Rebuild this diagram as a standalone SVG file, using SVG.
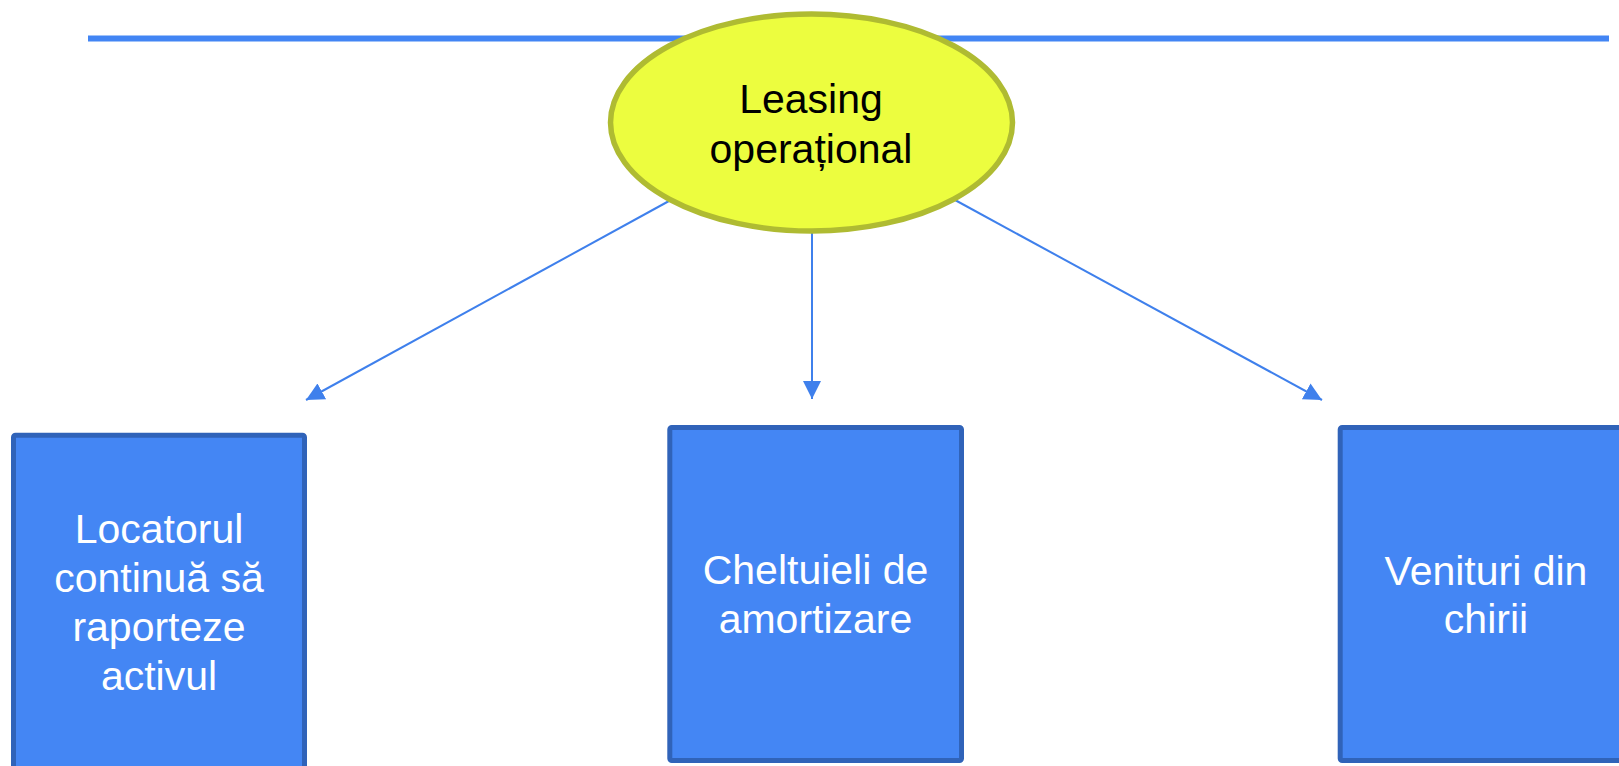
<svg xmlns="http://www.w3.org/2000/svg" width="1619" height="766" viewBox="0 0 1619 766">
<style>
.box{fill:#4486f4;stroke:#3063b9;stroke-width:5}
.lbl{font-family:"Liberation Sans",Arial,sans-serif;font-size:41px;fill:#ffffff;text-anchor:middle}
.conn{stroke:#3f80ec;stroke-width:2;fill:none}
</style>
<defs>
<marker id="ah" markerUnits="userSpaceOnUse" markerWidth="18" markerHeight="18" refX="17" refY="8.5" orient="auto" viewBox="0 0 17 17">
<path d="M0,0 L17,8.5 L0,17 z" fill="#3f80ec"/>
</marker>
</defs>
<rect width="1619" height="766" fill="#ffffff"/>
<line x1="88" y1="38.5" x2="1609" y2="38.5" stroke="#4285f4" stroke-width="6"/>
<g id="connectors">
<line class="conn" x1="669" y1="201" x2="306" y2="400" marker-end="url(#ah)"/>
<line class="conn" x1="812" y1="233" x2="812" y2="399" marker-end="url(#ah)"/>
<line class="conn" x1="955" y1="200" x2="1322" y2="400" marker-end="url(#ah)"/>
</g>
<g id="leasing">
<ellipse cx="811.5" cy="122.5" rx="201" ry="108.5" fill="#ecfd3f" stroke="#afbb32" stroke-width="5.5"/>
<text x="811" y="113" font-family="'Liberation Sans',Arial,sans-serif" font-size="41" fill="#000000" text-anchor="middle">Leasing</text>
<text x="811" y="163" font-family="'Liberation Sans',Arial,sans-serif" font-size="41" fill="#000000" text-anchor="middle">operațional</text>
</g>
<g id="locatorul">
<rect class="box" x="13.5" y="435.2" width="291" height="345" rx="2"/>
<text class="lbl" x="159" y="543">Locatorul</text>
<text class="lbl" x="159" y="592">continuă să</text>
<text class="lbl" x="159" y="641">raporteze</text>
<text class="lbl" x="159" y="690">activul</text>
</g>
<g id="cheltuieli">
<rect class="box" x="669.8" y="427.5" width="291.7" height="333" rx="2"/>
<text class="lbl" x="815.5" y="584">Cheltuieli de</text>
<text class="lbl" x="815.5" y="633">amortizare</text>
</g>
<g id="venituri">
<rect class="box" x="1340.2" y="427.5" width="292" height="333" rx="2"/>
<text class="lbl" x="1486" y="585">Venituri din</text>
<text class="lbl" x="1486" y="633">chirii</text>
</g>
</svg>
